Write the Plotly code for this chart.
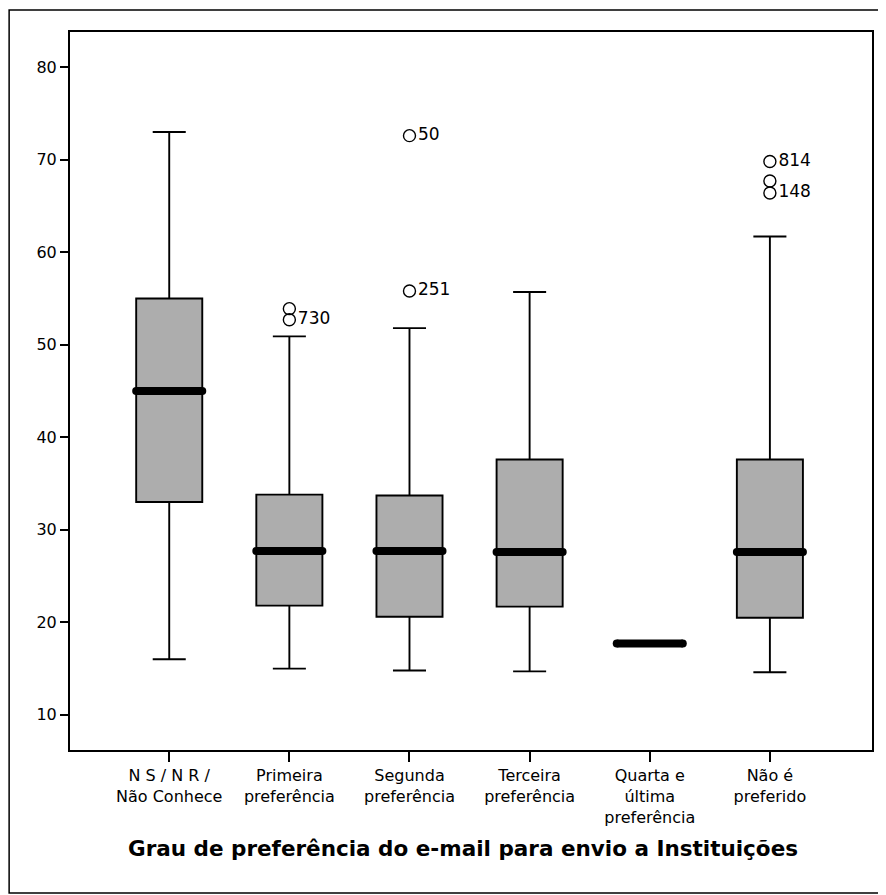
import plotly.graph_objects as go

categories = ["N S / N R /<br>Não Conhece", "Primeira<br>preferência", "Segunda<br>preferência",
              "Terceira<br>preferência", "Quarta e<br>última<br>preferência", "Não é<br>preferido"]
lower_whisker = [16, 15, 14.8, 14.7, 17.7, 14.6]
q1 = [33, 21.8, 20.6, 21.7, 17.7, 20.5]
median = [45, 27.7, 27.7, 27.6, 17.7, 27.6]
q3 = [55, 33.8, 33.7, 37.6, 17.7, 37.6]
upper_whisker = [73, 50.9, 51.8, 55.7, 17.7, 61.7]

# outliers: (category index, value, case label)
outlier_cat = [1, 1, 2, 2, 5, 5, 5]
outlier_val = [53.9, 52.7, 72.6, 55.8, 69.8, 67.7, 66.4]
outlier_lbl = ["", "730", "50", "251", "814", "", "148"]

y_ticks = [10, 20, 30, 40, 50, 60, 70, 80]

FONT = "DejaVu Sans, Liberation Sans, Arial, sans-serif"
BOX_W = 0.55

fig = go.Figure()
idx = list(range(len(categories)))
fig.add_trace(go.Box(
    x=idx, q1=q1, median=median, q3=q3,
    lowerfence=lower_whisker, upperfence=upper_whisker,
    width=BOX_W, whiskerwidth=0.5,
    fillcolor="#adadad", line=dict(color="black", width=1.9),
    boxpoints=False, showlegend=False, hoverinfo="skip"))

for i, m in zip(idx, median):
    fig.add_trace(go.Scatter(
        x=[i - BOX_W / 2, i + BOX_W / 2], y=[m, m], mode="lines+markers",
        line=dict(color="black", width=8),
        marker=dict(color="black", size=8, symbol="circle"),
        showlegend=False, hoverinfo="skip"))

fig.add_trace(go.Scatter(
    x=outlier_cat, y=outlier_val, mode="markers+text",
    text=outlier_lbl, textposition="middle right",
    textfont=dict(family=FONT, size=17, color="black"),
    marker=dict(symbol="circle-open", size=12, color="black", line=dict(width=1.4)),
    showlegend=False, hoverinfo="skip"))

# page body has an 8px margin: compensate so the plot lands at the reference pixels
fig.update_layout(
    width=878, height=887,
    margin=dict(l=62, r=12, t=24, b=145),
    paper_bgcolor="white", plot_bgcolor="white",
    font=dict(family=FONT, color="black"),
    xaxis=dict(range=[-0.826, 5.85], tickmode="array", tickvals=idx, ticktext=categories,
               ticks="outside", ticklen=10, tickwidth=1.5, tickcolor="black",
               showline=True, linecolor="black", linewidth=2, mirror=True,
               showgrid=False, zeroline=False, tickfont=dict(size=16, family=FONT)),
    yaxis=dict(range=[6.2, 83.8], tickmode="array", tickvals=y_ticks,
               ticks="outside", ticklen=8, tickwidth=1.5, tickcolor="black",
               showline=True, linecolor="black", linewidth=2, mirror=True,
               showgrid=False, zeroline=False, tickfont=dict(size=16, family=FONT)),
    shapes=[dict(type="rect", xref="paper", yref="paper",
                 x0=-0.0759, x1=1.0124, y0=-0.199, y1=1.0306,
                 line=dict(color="black", width=1.5), fillcolor="rgba(0,0,0,0)")],
    annotations=[dict(text="<b>Grau de preferência do e-mail para envio a Instituições</b>",
                      xref="paper", yref="paper", x=0.49, y=-0.1365,
                      showarrow=False, font=dict(family=FONT, size=21.5, color="black"),
                      xanchor="center", yanchor="middle")],
)

fig.write_html("out.html")
